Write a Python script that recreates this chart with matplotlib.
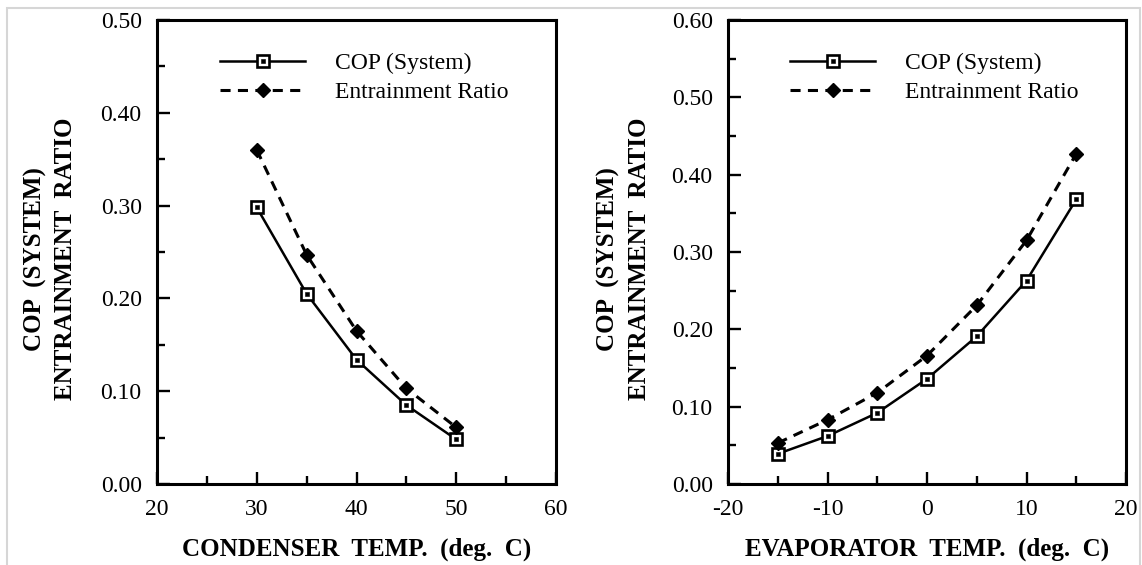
import matplotlib
matplotlib.use('Agg')
import matplotlib.pyplot as plt
from matplotlib.legend_handler import HandlerTuple
from matplotlib.ticker import MultipleLocator, FormatStrFormatter
import matplotlib.patches as mpatches

# ---- data ----
cond_temp = [30, 35, 40, 45, 50]
cond_cop = [0.298, 0.205, 0.134, 0.085, 0.048]
cond_er = [0.360, 0.247, 0.165, 0.103, 0.061]

evap_temp = [-15, -10, -5, 0, 5, 10, 15]
evap_cop = [0.039, 0.062, 0.092, 0.136, 0.191, 0.263, 0.368]
evap_er = [0.053, 0.083, 0.118, 0.166, 0.231, 0.315, 0.427]

legend_labels = ["COP (System)", "Entrainment Ratio"]
ylabel_lines = ["COP  (SYSTEM)", "ENTRAINMENT  RATIO"]
xlabel_left = "CONDENSER  TEMP.  (deg.  C)"
xlabel_right = "EVAPORATOR  TEMP.  (deg.  C)"

plt.rcParams['font.family'] = ['Liberation Serif', 'DejaVu Serif']
plt.rcParams['axes.unicode_minus'] = False

W, H = 1142, 565
fig = plt.figure(figsize=(W / 100, H / 100), dpi=100)


def ax_at(l, t, r, b):
    return fig.add_axes([l / W, 1 - b / H, (r - l) / W, (b - t) / H])


def panel(ax, x, cop, er, xlim, ylim, xlabel, leg_x, ylab_x):
    l1, = ax.plot(x, cop, color='black', lw=1.8, marker='s', ms=9,
                  mfc='white', mec='black', mew=1.9, zorder=3)
    d1, = ax.plot(x, cop, ls='none', marker='s', ms=2.2, mfc='black',
                  mec='black', mew=0.4, zorder=4)
    l2, = ax.plot(x, er, color='black', lw=2.2, ls=(0, (3.3, 2.4)),
                  marker='D', ms=7.5, mfc='black', mec='black', zorder=3)
    ax.set_xlim(*xlim)
    ax.set_ylim(*ylim)
    ax.xaxis.set_major_locator(MultipleLocator(10))
    ax.xaxis.set_minor_locator(MultipleLocator(5))
    ax.yaxis.set_major_locator(MultipleLocator(0.1))
    ax.yaxis.set_minor_locator(MultipleLocator(0.05))
    ax.yaxis.set_major_formatter(FormatStrFormatter('%.2f'))
    ax.tick_params(which='both', direction='in', top=False, right=False,
                   labelsize=17, width=1.7)
    ax.tick_params(which='major', length=9)
    ax.tick_params(which='minor', length=6)
    ax.tick_params(axis='x', pad=11)
    ax.tick_params(axis='y', pad=11)
    for s in ax.spines.values():
        s.set_linewidth(2.2)
    ax.legend([(l1, d1), l2], legend_labels, loc='upper left',
              bbox_to_anchor=(leg_x, 0.93), frameon=False, fontsize=17,
              handlelength=3.6, handletextpad=1.25, labelspacing=0.33,
              borderpad=0, borderaxespad=0,
              handler_map={tuple: HandlerTuple(ndivide=1)})
    bb = ax.get_position()
    cx = (bb.x0 + bb.x1) / 2
    fig.text(cx, 1 - 549 / H, xlabel, ha='center', va='center',
             fontsize=18, fontweight='bold')
    cy = 1 - 259 / H
    fig.text(ylab_x[0] / W, cy, ylabel_lines[0], rotation=90, ha='center',
             va='center', fontsize=18, fontweight='bold')
    fig.text(ylab_x[1] / W, cy, ylabel_lines[1], rotation=90, ha='center',
             va='center', fontsize=18, fontweight='bold')


ax1 = ax_at(157, 20, 556, 484)
ax2 = ax_at(728, 20, 1126, 484)
panel(ax1, cond_temp, cond_cop, cond_er, (20, 60), (0, 0.5), xlabel_left,
      0.158, (35, 66))
panel(ax2, evap_temp, evap_cop, evap_er, (-20, 20), (0, 0.6), xlabel_right,
      0.156, (608, 639))

fig.patches.append(mpatches.Rectangle((7 / W, -0.1), (1140 - 7) / W,
                                      1 - 8 / H + 0.1, fill=False,
                                      ec='#d6d6d6', lw=1.5,
                                      transform=fig.transFigure))

fig.savefig('out.png', dpi=100)
